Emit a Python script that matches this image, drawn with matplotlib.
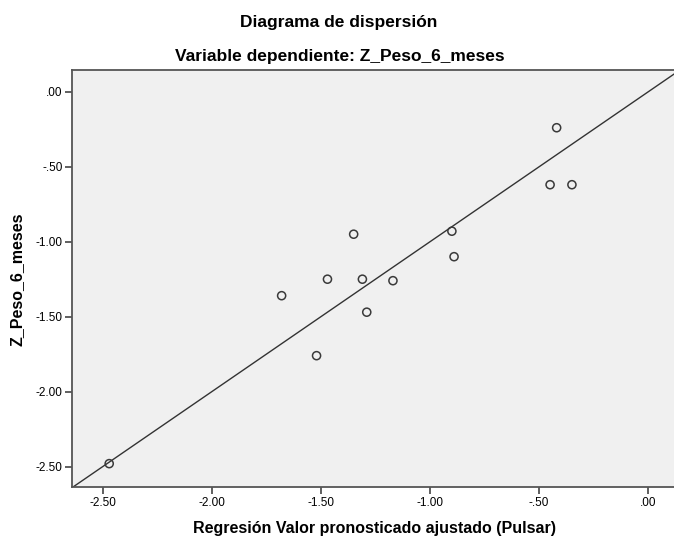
import matplotlib.pyplot as plt
import numpy as np

plt.rcParams['font.family'] = ['Liberation Sans', 'DejaVu Sans']

# valor pronosticado ajustado (x) y Z_Peso_6_meses (y)
pronosticado = [-2.47, -1.68, -1.52, -1.47, -1.35, -1.31, -1.29, -1.17, -0.90, -0.89, -0.45, -0.42, -0.35]
z_peso = [-2.48, -1.36, -1.76, -1.25, -0.95, -1.25, -1.47, -1.26, -0.93, -1.10, -0.62, -0.24, -0.62]
ticks = [-2.5, -2.0, -1.5, -1.0, -0.5, 0.0]
tick_labels = ["-2.50", "-2.00", "-1.50", "-1.00", "-.50", ".00"]

fig = plt.figure(figsize=(6.74, 5.38), dpi=100)
ax = fig.add_axes([0.1073, 0.0939, 0.909, 0.776])
ax.set_facecolor("#f0f0f0")

# recta de referencia y = x
ref = np.array([-3.0, 1.0])
ax.plot(ref, ref, color="#333333", lw=1.0, zorder=2)

ax.scatter(pronosticado, z_peso, s=34, facecolors="none", edgecolors="#3a3a3a", linewidths=1.1, zorder=3)

ax.set_xlim(-2.639, 0.168)
ax.set_ylim(-2.639, 0.145)
ax.set_xticks(ticks)
ax.set_xticklabels(tick_labels)
ax.set_yticks(ticks)
ax.set_yticklabels(tick_labels)
ax.tick_params(length=5, width=1.2, color="#444444", labelsize=8.5, pad=2)

for s in ax.spines.values():
    s.set_color("#555555")
    s.set_linewidth(1.3)
ax.spines["right"].set_visible(False)

fig.text(17 / 674, 1 - 279 / 538, "Z_Peso_6_meses", rotation=90,
         ha="center", va="center", fontsize=11.5, fontweight="bold")
fig.text(375 / 674, 1 - 528 / 538, "Regresión Valor pronosticado ajustado (Pulsar)",
         ha="center", va="center", fontsize=11.5, fontweight="bold")

fig.text(339 / 674, 1 - 22 / 538, "Diagrama de dispersión", ha="center", va="center",
         fontsize=12.5, fontweight="bold")
fig.text(340 / 674, 1 - 57 / 538, "Variable dependiente: Z_Peso_6_meses", ha="center", va="center",
         fontsize=12.5, fontweight="bold")

fig.savefig("out.png", dpi=100)
